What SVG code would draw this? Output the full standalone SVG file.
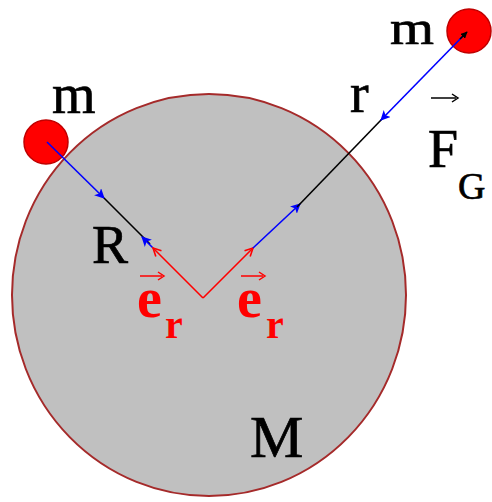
<svg xmlns="http://www.w3.org/2000/svg" width="492" height="502" viewBox="0 0 492 502">
<defs>
<style>
.lbl{font-family:"Liberation Serif","Times New Roman",serif;fill:#000;stroke:#000;stroke-width:0.7}
.red{font-family:"Liberation Serif","Times New Roman",serif;fill:#ff0000;font-weight:bold}
.blue{stroke:#0000ff;stroke-width:1.6;fill:none}
.black{stroke:#000;stroke-width:1.6;fill:none}
.redl{stroke:#ff0000;stroke-width:1.6;fill:none}
</style>
<marker id="bh" viewBox="0 0 10 10" refX="9" refY="5" markerWidth="10" markerHeight="10" markerUnits="userSpaceOnUse" orient="auto">
<path d="M0,0 L10,5 L0,10 L2.5,5 Z" fill="#0000ff"/>
</marker>
<marker id="rh" viewBox="0 0 10 10" refX="9" refY="5" markerWidth="10" markerHeight="10" markerUnits="userSpaceOnUse" orient="auto">
<path d="M1,1 L9,5 L1,9" fill="none" stroke="#ff0000" stroke-width="1.6"/>
</marker>
<marker id="kh" viewBox="0 0 10 10" refX="9" refY="5" markerWidth="7" markerHeight="7" markerUnits="userSpaceOnUse" orient="auto">
<path d="M0,0 L10,5 L0,10 Z" fill="#000"/>
</marker>
</defs>
<g id="earth">
<ellipse cx="209" cy="295" rx="197" ry="201" fill="#c0c0c0" stroke="#a52a2a" stroke-width="2"/>
<text class="lbl" x="250" y="457" font-size="60">M</text>
</g>
<g id="mass-left">
<circle cx="46" cy="142" r="22" fill="#ff0000" stroke="#c00000" stroke-width="1.5"/>
<text class="lbl" x="52" y="113" font-size="56">m</text>
</g>
<g id="mass-right">
<circle cx="469" cy="31" r="22" fill="#ff0000" stroke="#c00000" stroke-width="1.5"/>
<text class="lbl" x="390" y="44" font-size="49" textLength="44" lengthAdjust="spacingAndGlyphs">m</text>
</g>
<g id="connectors">
<line class="blue" x1="47" y1="142" x2="104" y2="198" marker-end="url(#bh)"/>
<line class="black" x1="104" y1="198" x2="150" y2="244"/>
<line class="blue" x1="153" y1="248" x2="142" y2="237" marker-end="url(#bh)"/>
<line class="redl" x1="203" y1="298" x2="153" y2="248" marker-end="url(#rh)"/>
<line class="redl" x1="203" y1="298" x2="253" y2="248" marker-end="url(#rh)"/>
<line class="blue" x1="253" y1="248" x2="300" y2="204" marker-end="url(#bh)"/>
<line class="black" x1="297" y1="207" x2="382" y2="119"/>
<line class="blue" x1="465" y1="34" x2="381" y2="120" marker-end="url(#bh)"/>
<line class="black" x1="460" y1="39" x2="467" y2="32" marker-end="url(#kh)"/>
</g>
<g id="labels">
<text class="lbl" x="350" y="112" font-size="56">r</text>
<text class="lbl" x="92" y="263" font-size="54">R</text>
<line x1="431" y1="98" x2="456" y2="98" stroke="#000" stroke-width="1.5"/>
<path d="M452,94 L458,98 L452,102" fill="none" stroke="#000" stroke-width="1.5"/>
<text class="lbl" x="428" y="167" font-size="54">F</text>
<text class="lbl" x="458" y="199" font-size="38">G</text>
<line x1="140" y1="276" x2="162" y2="276" stroke="#ff0000" stroke-width="1.5"/>
<path d="M158,272 L164,276 L158,280" fill="none" stroke="#ff0000" stroke-width="1.5"/>
<text class="red" x="137" y="317" font-size="56">e</text>
<text class="red" x="165" y="338" font-size="40">r</text>
<line x1="241" y1="276" x2="263" y2="276" stroke="#ff0000" stroke-width="1.5"/>
<path d="M259,272 L265,276 L259,280" fill="none" stroke="#ff0000" stroke-width="1.5"/>
<text class="red" x="237" y="317" font-size="56">e</text>
<text class="red" x="266" y="338" font-size="40">r</text>
</g>
</svg>
